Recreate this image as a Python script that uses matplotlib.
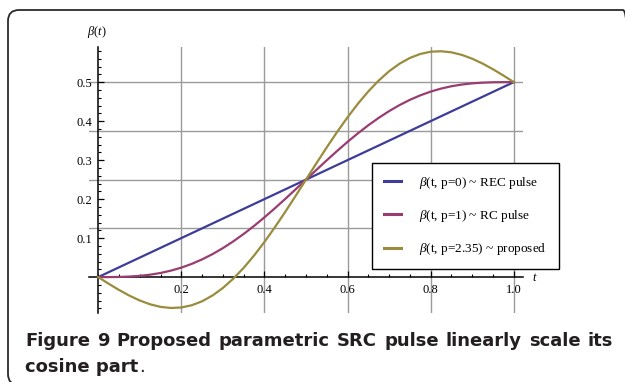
import matplotlib
matplotlib.use("Agg")
import matplotlib.pyplot as plt
from matplotlib.patches import FancyBboxPatch
from matplotlib.transforms import IdentityTransform
from matplotlib.ticker import MultipleLocator, FixedLocator

plt.rcParams['font.family'] = ['Liberation Serif', 'DejaVu Serif']
plt.rcParams['mathtext.fontset'] = 'custom'
plt.rcParams['mathtext.rm'] = 'Liberation Serif'
plt.rcParams['mathtext.it'] = 'Liberation Serif:italic'

# data (t step 0.025)
t = [0.000, 0.025, 0.050, 0.075, 0.100, 0.125, 0.150, 0.175, 0.200, 0.225,
     0.250, 0.275, 0.300, 0.325, 0.350, 0.375, 0.400, 0.425, 0.450, 0.475,
     0.500, 0.525, 0.550, 0.575, 0.600, 0.625, 0.650, 0.675, 0.700, 0.725,
     0.750, 0.775, 0.800, 0.825, 0.850, 0.875, 0.900, 0.925, 0.950, 0.975, 1.000]
beta_rec = [0.0000, 0.0125, 0.0250, 0.0375, 0.0500, 0.0625, 0.0750, 0.0875, 0.1000, 0.1125,
            0.1250, 0.1375, 0.1500, 0.1625, 0.1750, 0.1875, 0.2000, 0.2125, 0.2250, 0.2375,
            0.2500, 0.2625, 0.2750, 0.2875, 0.3000, 0.3125, 0.3250, 0.3375, 0.3500, 0.3625,
            0.3750, 0.3875, 0.4000, 0.4125, 0.4250, 0.4375, 0.4500, 0.4625, 0.4750, 0.4875, 0.5000]
beta_rc = [0.0000, 0.0001, 0.0004, 0.0014, 0.0032, 0.0062, 0.0106, 0.0166, 0.0243, 0.0339,
           0.0454, 0.0589, 0.0743, 0.0916, 0.1106, 0.1312, 0.1532, 0.1764, 0.2004, 0.2251,
           0.2500, 0.2749, 0.2996, 0.3236, 0.3468, 0.3688, 0.3894, 0.4084, 0.4257, 0.4411,
           0.4546, 0.4661, 0.4757, 0.4834, 0.4894, 0.4938, 0.4968, 0.4986, 0.4996, 0.4999, 0.5000]
beta_prop = [0.0000, -0.0168, -0.0328, -0.0474, -0.0599, -0.0697, -0.0763, -0.0791, -0.0779, -0.0722,
             -0.0620, -0.0472, -0.0279, -0.0041, 0.0237, 0.0553, 0.0901, 0.1276, 0.1672, 0.2082,
             0.2500, 0.2918, 0.3328, 0.3724, 0.4099, 0.4447, 0.4763, 0.5041, 0.5279, 0.5472,
             0.5620, 0.5722, 0.5779, 0.5791, 0.5763, 0.5697, 0.5599, 0.5474, 0.5328, 0.5168, 0.5000]
labels = [r'$\beta$(t, p=0) ~ REC pulse',
          r'$\beta$(t, p=1) ~ RC pulse',
          r'$\beta$(t, p=2.35) ~ proposed']
colors = ['#3d3d99', '#993d71', '#998c3d']
grid_x = [0.2, 0.4, 0.6, 0.8, 1.0]
grid_y = [0.125, 0.25, 0.375, 0.5]

W, H = 625, 382
fig = plt.figure(figsize=(W / 100, H / 100), dpi=100)
fig.patch.set_facecolor('white')

# rounded frame (pixel coords, origin bottom-left); right and bottom edges run off the image
frame = FancyBboxPatch((8, -3), 626, 375, boxstyle='round,pad=0,rounding_size=11',
                       transform=IdentityTransform(), facecolor='none',
                       edgecolor='#2b2b2b', linewidth=1.3)
fig.patches.append(frame)

ax = fig.add_axes([89 / W, 1 - 313 / H, (523 - 89) / W, (313 - 47) / H])
ax.set_xlim(-0.022, 1.022)
ax.set_ylim(-0.092, 0.59)

for gx in grid_x:
    ax.axvline(gx, color='#9a9a9a', lw=1.0, zorder=1)
for gy in grid_y:
    ax.axhline(gy, color='#9a9a9a', lw=1.0, zorder=1)

for ys, c, lab in zip([beta_rec, beta_rc, beta_prop], colors, labels):
    ax.plot(t, ys, color=c, lw=1.6, label=lab, zorder=3, solid_joinstyle='round')

ax.spines['left'].set_position(('data', 0))
ax.spines['bottom'].set_position(('data', 0))
ax.spines['top'].set_visible(False)
ax.spines['right'].set_visible(False)
for s in ['left', 'bottom']:
    ax.spines[s].set_linewidth(1.1)
    ax.spines[s].set_zorder(2)

ax.xaxis.set_major_locator(FixedLocator([0.2, 0.4, 0.6, 0.8, 1.0]))
ax.xaxis.set_minor_locator(MultipleLocator(0.05))
ax.yaxis.set_major_locator(FixedLocator([0.1, 0.2, 0.3, 0.4, 0.5]))
ax.yaxis.set_minor_locator(MultipleLocator(0.02))
ax.tick_params(which='major', direction='in', length=4, width=0.9, labelsize=9, color='black')
ax.tick_params(which='minor', direction='in', length=2.2, width=0.8, color='black')
ax.tick_params(axis='x', pad=5)
ax.tick_params(axis='y', pad=4)
ax.set_xticklabels(['0.2', '0.4', '0.6', '0.8', '1.0'])
ax.set_yticklabels(['0.1', '0.2', '0.3', '0.4', '0.5'])

fig.text(97 / W, 1 - 32 / H, r'$\beta$($t$)', ha='center', va='center', fontsize=9)
fig.text(535 / W, 1 - 278 / H, r'$t$', ha='center', va='center', fontsize=9)

leg = ax.legend(loc='upper left', bbox_to_anchor=(372 / W, 1 - 163 / H), bbox_transform=fig.transFigure,
                fontsize=9.5, frameon=True, fancybox=False, edgecolor='black', framealpha=1,
                borderpad=0.9, labelspacing=1.3, handlelength=1.3, handletextpad=1.4, borderaxespad=0)
leg.get_frame().set_linewidth(1.0)
leg.set_zorder(5)
for ln in leg.get_lines():
    ln.set_linewidth(2.2)

# caption, first line justified word by word
cap_font = dict(family=['DejaVu Sans'], fontsize=13, color='#231f20')
renderer = fig.canvas.get_renderer()
words = 'Figure 9 Proposed parametric SRC pulse linearly scale its'.split()
x_left, x_right, base1, base2 = 25, 613, 346, 372

txts = [fig.text(0, 1 - base1 / H, w, fontweight='bold', va='baseline', ha='left', **cap_font)
        for w in words]
widths = [tx.get_window_extent(renderer).width for tx in txts]
gap = (x_right - x_left - sum(widths)) / (len(words) - 1)
xpos = x_left
for tx, wd in zip(txts, widths):
    tx.set_x(xpos / W)
    xpos += wd + gap

t2 = fig.text(x_left / W, 1 - base2 / H, 'cosine part', fontweight='bold', va='baseline', ha='left',
              **cap_font)
w2 = t2.get_window_extent(renderer).width
fig.text((x_left + w2 + 0.5) / W, 1 - base2 / H, '.', va='baseline', ha='left', **cap_font)

fig.savefig('out.png', dpi=100)
